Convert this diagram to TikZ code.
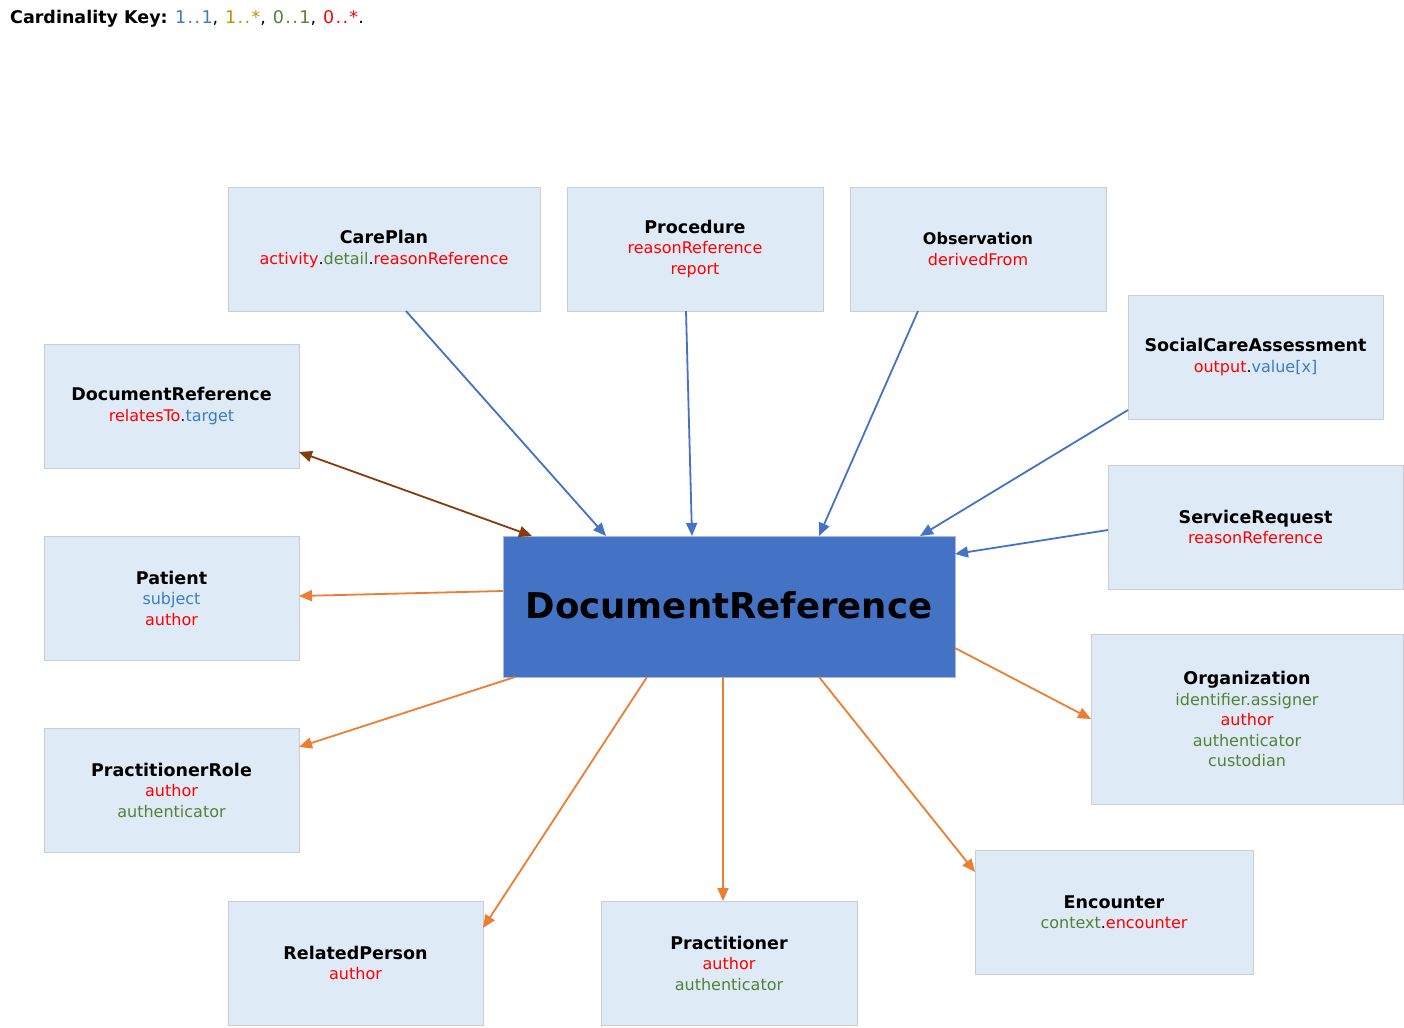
\documentclass[tikz,border=0pt]{standalone}
\usepackage{fontspec}
\setmainfont{DejaVu Sans}
\usetikzlibrary{arrows.meta}

\definecolor{boxfill}{HTML}{DEEAF6}
\definecolor{boxline}{HTML}{CACDD1}
\definecolor{mainfill}{HTML}{4472C4}
\definecolor{mainline}{HTML}{A7B9DD}
\definecolor{refblue}{HTML}{4472C4}
\definecolor{reforange}{HTML}{ED7D31}
\definecolor{refbrown}{HTML}{843C0C}
\definecolor{c11}{HTML}{3A7DC6}
\definecolor{c1n}{HTML}{C09000}
\definecolor{c01}{HTML}{548235}
\definecolor{c0n}{HTML}{FF0000}

\newcommand{\cls}[1]{{\bfseries\fontsize{17.5}{20.5}\selectfont #1}}

\begin{document}
\begin{tikzpicture}[x=1pt,y=-1pt,
	box/.style={draw=boxline,fill=boxfill,line width=1pt,inner sep=0pt,outer sep=0pt,
		minimum height=124pt,align=center,font=\fontsize{16}{20.5}\selectfont},
	mainbox/.style={draw=mainline,fill=mainfill,line width=1pt,inner sep=0pt,outer sep=0pt,
		minimum width=452pt,minimum height=141pt,font=\bfseries\fontsize{35.5}{40}\selectfont},
	ref/.style={draw=refblue,line width=1.8pt,-{Triangle[length=13pt,width=11pt]}},
	link/.style={draw=reforange,line width=1.8pt,-{Triangle[length=13pt,width=11pt]}},
	self/.style={draw=refbrown,line width=1.8pt,{Triangle[length=13pt,width=11pt]}-{Triangle[length=13pt,width=11pt]}}]
	\useasboundingbox (0,0) rectangle (1404,1027);
	\node[anchor=base west,inner sep=0pt,font=\fontsize{17.5}{21}\selectfont] (key) at (10,23.5)
		{\textbf{Cardinality Key:} {\addfontfeatures{LetterSpace=8}\textcolor{c11}{1..1}, \textcolor{c1n}{1..*}, \textcolor{c01}{0..1}, \textcolor{c0n}{0..*}.}};

	\node[mainbox] (main) at (729,606.5) {\raisebox{2pt}{DocumentReference}};

	\node[box,minimum width=312pt] (careplan) at (384,249)
		{\cls{CarePlan}\\\textcolor{c0n}{activity}.\textcolor{c01}{detail}.\textcolor{c0n}{reasonReference}};
	\node[box,minimum width=256pt] (procedure) at (695,249)
		{\cls{Procedure}\\\textcolor{c0n}{reasonReference}\\\textcolor{c0n}{report}};
	\node[box,minimum width=256pt] (observation) at (978,249)
		{\textbf{Observation}\\\textcolor{c0n}{derivedFrom}};
	\node[box,minimum width=255pt] (social) at (1255.5,357)
		{\cls{SocialCareAssessment}\\\textcolor{c0n}{output}.\textcolor{c11}{value[x]}};
	\node[box,minimum width=295pt] (service) at (1255.5,527)
		{\cls{ServiceRequest}\\\textcolor{c0n}{reasonReference}};
	\node[box,minimum width=312pt,minimum height=170pt] (org) at (1247,719)
		{\cls{Organization}\\\textcolor{c01}{identifier.assigner}\\\textcolor{c0n}{author}\\\textcolor{c01}{authenticator}\\\textcolor{c01}{custodian}};
	\node[box,minimum width=278pt] (encounter) at (1114,912)
		{\cls{Encounter}\\\textcolor{c01}{context}.\textcolor{c0n}{encounter}};
	\node[box,minimum width=256pt] (practitioner) at (729,963)
		{\cls{Practitioner}\\\textcolor{c0n}{author}\\\textcolor{c01}{authenticator}};
	\node[box,minimum width=255pt] (relperson) at (355.5,963)
		{\cls{RelatedPerson}\\\textcolor{c0n}{author}};
	\node[box,minimum width=255pt] (prole) at (171.5,790)
		{\cls{PractitionerRole}\\\textcolor{c0n}{author}\\\textcolor{c01}{authenticator}};
	\node[box,minimum width=255pt] (patient) at (171.5,598)
		{\cls{Patient}\\\textcolor{c11}{subject}\\\textcolor{c0n}{author}};
	\node[box,minimum width=255pt] (docref) at (171.5,406)
		{\cls{DocumentReference}\\\textcolor{c0n}{relatesTo}.\textcolor{c11}{target}};

	\draw[ref] ([xshift=22pt]careplan.south) -- ([xshift=-123pt]main.north);
	\draw[ref] ([xshift=-9pt]procedure.south) -- ([xshift=-37pt]main.north);
	\draw[ref] ([xshift=-60pt]observation.south) -- ([xshift=90pt]main.north);
	\draw[ref] ([yshift=-53pt]social.west) -- ([xshift=191pt]main.north);
	\draw[ref] ([yshift=-3pt]service.west) -- ([yshift=-18pt]main.north east);
	\draw[self] ([xshift=29pt]main.north west) -- ([yshift=16pt]docref.south east);
	\draw[link] ([yshift=15.5pt]main.west) -- ([yshift=2pt]patient.east);
	\draw[link] ([xshift=12pt]main.south west) -- ([yshift=43pt]prole.east);
	\draw[link] ([xshift=-82pt]main.south) -- ([yshift=-27pt]relperson.north east);
	\draw[link] ([xshift=-6pt]main.south) -- ([xshift=-6pt]practitioner.north);
	\draw[link] ([xshift=90pt]main.south) -- ([yshift=-22pt]encounter.north west);
	\draw[link] ([yshift=-41.5pt]main.east) -- (org.west);
\end{tikzpicture}
\end{document}
